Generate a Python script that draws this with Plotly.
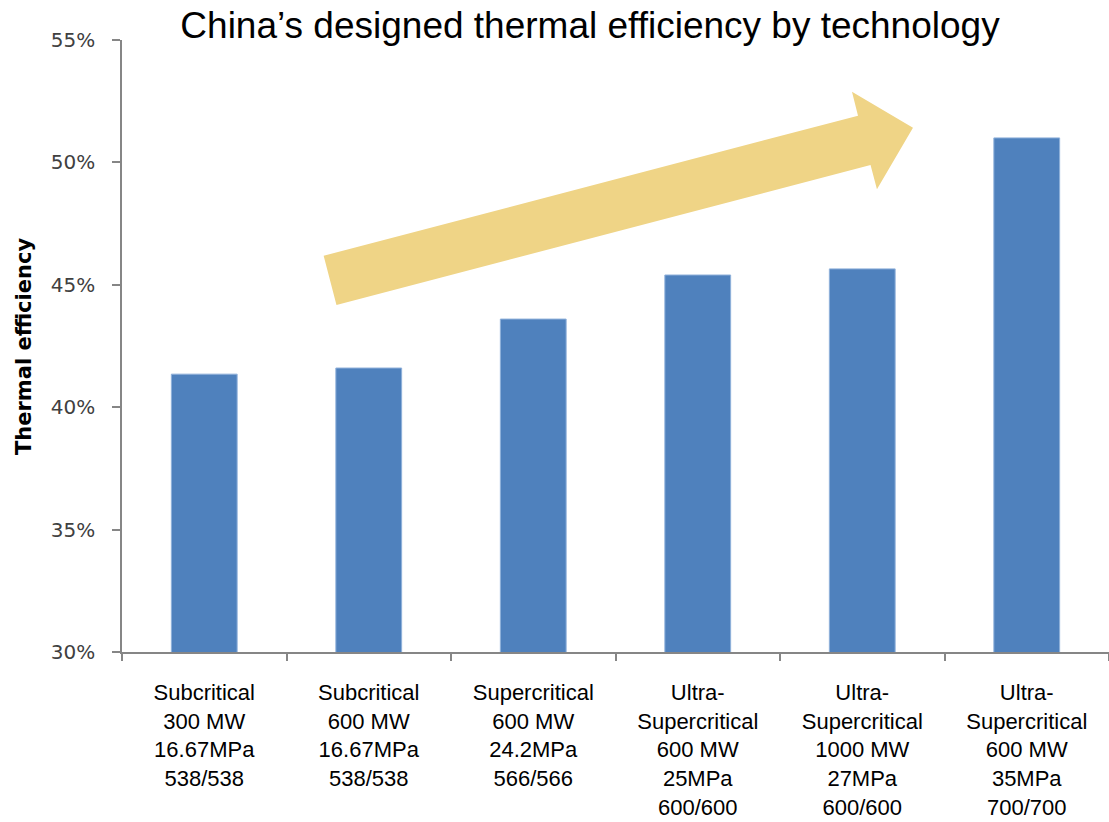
import plotly.graph_objects as go

categories = [
    "Subcritical<br>300 MW<br>16.67MPa<br>538/538",
    "Subcritical<br>600 MW<br>16.67MPa<br>538/538",
    "Supercritical<br>600 MW<br>24.2MPa<br>566/566",
    "Ultra-<br>Supercritical<br>600 MW<br>25MPa<br>600/600",
    "Ultra-<br>Supercritical<br>1000 MW<br>27MPa<br>600/600",
    "Ultra-<br>Supercritical<br>600 MW<br>35MPa<br>700/700",
]
efficiency = [41.35, 41.6, 43.6, 45.4, 45.65, 51.0]
y_ticks = [30, 35, 40, 45, 50, 55]
y_tick_text = ["30%", "35%", "40%", "45%", "50%", "55%"]

W, H = 1109, 822
ML, MR, MT, MB = 122, 0, 40, 170
PW = W - ML - MR
PH = H - MT - MB


def px(x, y):
    return (x - ML) / PW, (H - MB - y) / PH


arrow_px = [(323.6, 255.7), (858, 115.7), (852, 91.7), (913, 127.7),
            (877, 189.3), (870.5, 165), (336.5, 305)]
pts = [px(x, y) for x, y in arrow_px]
path = "M " + " L ".join(f"{a:.4f},{b:.4f}" for a, b in pts) + " Z"

fig = go.Figure()
fig.add_trace(go.Bar(
    x=categories, y=efficiency,
    marker=dict(color="#4F81BD", line=dict(color="#8FB0DA", width=1)),
    width=0.4,
))

fig.add_shape(type="path", path=path, xref="paper", yref="paper",
              fillcolor="#EFD486", line=dict(width=0), layer="above")

tx, ty = px(23.5, 346.5)
fig.add_annotation(text="<b>Thermal efficiency</b>", xref="paper", yref="paper",
                   x=tx, y=ty, xanchor="center", yanchor="middle",
                   textangle=-90, showarrow=False,
                   font=dict(family="DejaVu Sans, Verdana", size=21, color="black"))

fig.update_layout(
    width=W, height=H,
    margin=dict(l=ML, r=MR, t=MT, b=MB, pad=0, autoexpand=False),
    plot_bgcolor="white", paper_bgcolor="white",
    showlegend=False,
    title=dict(text="China\u2019s designed thermal efficiency by technology",
               x=590 / W, xanchor="center", y=1 - 25 / H, yanchor="middle",
               font=dict(family="Liberation Sans, Arial", size=37, color="black")),
    xaxis=dict(
        type="category", automargin=False,
        showline=True, linecolor="#868686", linewidth=1.5,
        ticks="outside", ticklen=7, tickcolor="#868686", tickwidth=1.5,
        tickson="boundaries", ticklabelstandoff=20,
        tickfont=dict(family="Liberation Sans, Arial", size=22, color="black"),
        showgrid=False, zeroline=False,
    ),
    yaxis=dict(
        range=[30, 55], automargin=False,
        tickvals=y_ticks, ticktext=y_tick_text,
        showline=True, linecolor="#868686", linewidth=1.5,
        ticks="outside", ticklen=8, tickcolor="#868686", tickwidth=1.5,
        ticklabelstandoff=13,
        tickfont=dict(family="DejaVu Sans, Verdana", size=20, color="#404040"),
        showgrid=False, zeroline=False,
    ),
)

fig.write_html("out.html")
